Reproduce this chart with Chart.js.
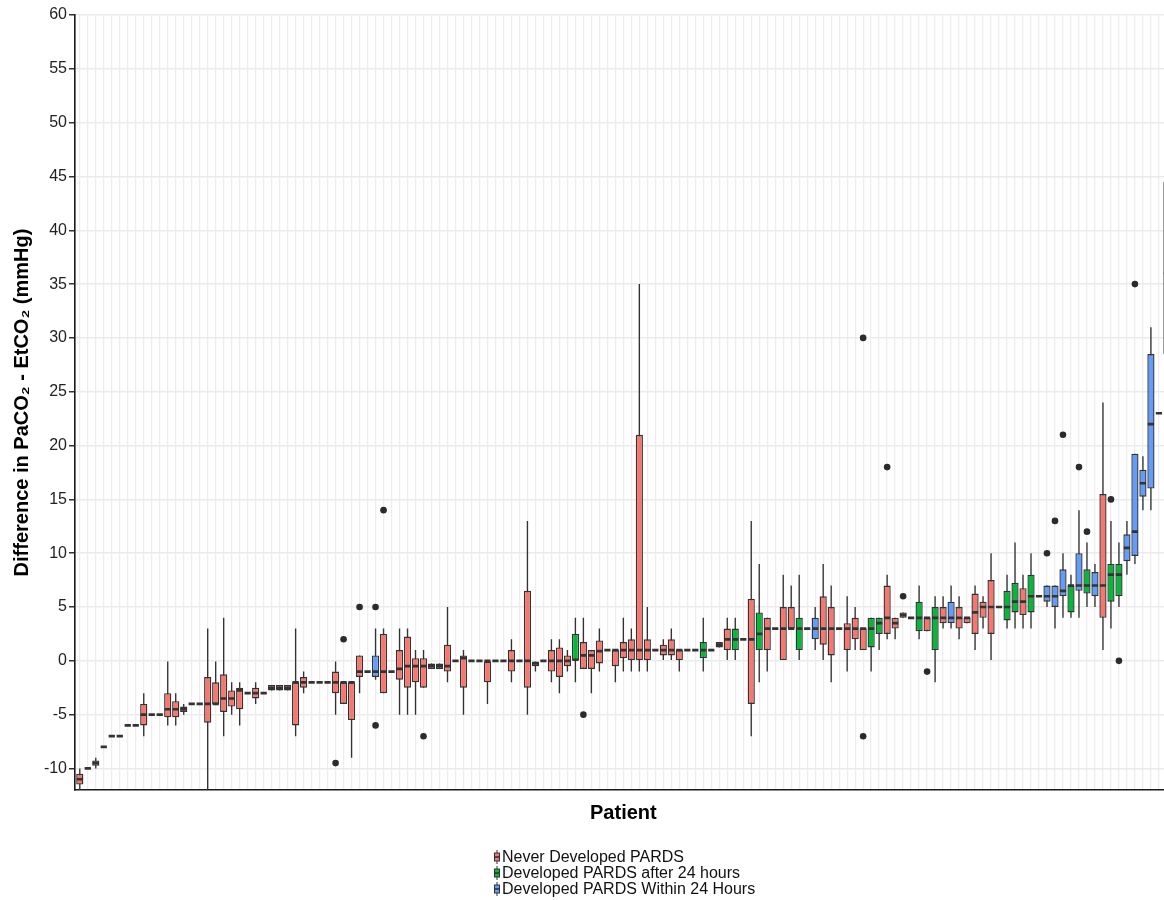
<!DOCTYPE html>
<html>
<head>
<meta charset="utf-8">
<script src="https://cdn.jsdelivr.net/npm/chart.js@4.4.1/dist/chart.umd.min.js"></script>
<style>
  html, body { margin: 0; padding: 0; background: #fff; overflow: hidden; width: 1164px; height: 900px; }
  #wrap { position: absolute; left: 0; top: 0; width: 1175px; height: 900px; }
  #legend { position: absolute; left: 493px; top: 849px; }
  .row { display: flex; align-items: center; height: 16px; font: 16px "Liberation Sans", Arial, sans-serif; color: #111; white-space: nowrap; }
  .row svg { margin-right: 1px; }
</style>
</head>
<body>
<div id="wrap"><canvas id="chart"></canvas></div>
<div id="legend"></div>
<script>
// ---------- data ----------
const groupNames = ['Never Developed PARDS', 'Developed PARDS after 24 hours', 'Developed PARDS Within 24 Hours'];
const groupColors = ['#F8766D', '#00BA38', '#619CFF'];

// group of each patient (0 = never, 1 = after 24 h, 2 = within 24 h), patients ordered left to right
const patientGroup = [
  0,0,0,0,0,0,0,0,0,0,
  0,0,0,0,0,0,0,0,0,0,
  0,0,0,0,0,0,0,0,0,0,
  0,0,0,0,0,0,0,2,0,0,
  0,0,0,0,0,1,0,0,0,0,
  0,0,0,0,0,0,0,0,0,0,
  0,0,1,0,0,0,0,0,0,0,
  0,0,0,0,0,0,0,0,1,0,
  0,0,1,0,0,1,0,0,0,0,
  1,0,2,0,0,0,0,0,0,1,
  1,0,0,0,0,1,0,1,0,2,
  0,0,0,0,0,0,1,1,0,1,
  0,2,2,2,1,2,1,2,0,1,
  1,2,2,2,2,2,2
];

const whiskerLow = [
  -12.5,-10,-10,-8,-7,-7,-6,-6,-7,-5,
  -5,-6,-6,-5,-4,-4,-15,-4,-7,-5,
  -6,-3,-4,-3,-2.75,-2.75,-2.75,-7,-3,-2,
  -2,-2,-5,-4,-9,-3,-1,-1.75,-3,-1,
  -5,-5,-5,-2.5,-0.75,-0.75,-2,0,-5,0,
  0,-4,0,0,-2,0,-5,-1,0,-2,
  -3,-1,-2,-0.75,-3,-1,1,-2,-1,-1,
  -1,-1,1,0,0,-1,1,1,-1,1,
  1.25,0,0,2,-7,-2,-1,3,0,3,
  0,3,1,0,-2,3,-1,1,1,-1,
  1,2,2,4,4,2,2.75,-2,3,3,
  2,3.5,1,3,0,5,3,3,3,3,
  6,5,3,4,4,4,5,5,1,3,
  5,8,9,14,14,23,25
];

const lowerQuartile = [
  -11.5,-10,-9.75,-8,-7,-7,-6,-6,-6,-5,
  -5,-5.25,-5.25,-4.75,-4,-4,-5.75,-4,-4.75,-4.25,
  -4.5,-3,-3.5,-3,-2.75,-2.75,-2.75,-6,-2.5,-2,
  -2,-2,-3,-4,-5.5,-1.5,-1,-1.5,-3,-1,
  -1.75,-2.5,-2,-2.5,-0.75,-0.75,-1,0,-2.5,0,
  0,-2,0,0,-1,0,-2.5,-0.5,0,-1,
  -1.5,-0.5,0,-0.75,-0.75,-0.25,1,-0.5,0.25,0,
  0,0,1,0.5,0.5,0,1,1,0.25,1,
  1.25,1,1,2,-4,1,1,3,0,3,
  1,3,2,1.5,0.5,3,1,2,1,1.25,
  2.5,2.5,3,4,4,2.75,2.75,1,3.5,3.5,
  3,3.5,2.5,4,2.5,5,3.75,4.5,4.25,4.5,
  6,5.5,5,6,4.5,6.5,6.25,6,4,5.5,
  6,9.25,9.75,15.25,16,23,28.5
];

const medianValue = [
  -11,-10,-9.5,-8,-7,-7,-6,-6,-5,-5,
  -5,-4.5,-4.5,-4.5,-4,-4,-4,-4,-3.5,-3.5,
  -2.75,-3,-3,-3,-2.5,-2.5,-2.5,-2,-2,-2,
  -2,-2,-2,-2,-2,-1,-1,-1,-1,-1,
  -0.75,-0.5,-0.5,-0.5,-0.5,-0.5,-0.5,0,0.25,0,
  0,0,0,0,0,0,0,-0.25,0,0,
  0,0,0.1,0.5,0.5,0.9,1,1,1,1,
  1,1,1,1,1,1,1,1,1,1,
  1.5,2,2,2,2,2.5,3,3,3,3,
  3,3,3,3,3,3,3,3,3,3,
  3.5,4,3.5,4.25,4,4,4,4,4,4,
  4,4,4.5,5,5,5,5,5.5,5.5,6,
  6,6,6,6.5,7,7,7,7,7,8,
  8,10.5,12,16.5,22,23,36
];

const upperQuartile = [
  -10.5,-10,-9.25,-8,-7,-7,-6,-6,-4,-5,
  -5,-3,-3.75,-4.25,-4,-4,-1.5,-2,-1.25,-2.75,
  -2.5,-3,-2.5,-3,-2.25,-2.25,-2.25,-2,-1.5,-2,
  -2,-2,-1,-2,-2,0.5,-1,0.5,2.5,-1,
  1,2.25,0.25,0.25,-0.25,-0.25,1.5,0,0.5,0,
  0,0,0,0,1,0,6.5,0,0,1,
  1.25,0.5,2.5,1.75,1,1.9,1,1,1.75,2,
  21,2,1,1.5,2,1,1,1,1.75,1,
  1.75,3,3,2,5.75,4.5,4,3,5,5,
  4,3,4,6,5,3,3.5,4,3,4,
  4,7,4,4.5,4,5.5,4,5,5,5.5,
  5,4,6.25,5.5,7.5,5,6.5,7.25,6.75,8,
  6,7,7,8.5,7,10,8.5,8.25,15.5,9,
  9,11.75,19.25,17.75,28.5,23,44.5
];

const whiskerHigh = [
  -10,-10,-9,-8,-7,-7,-6,-6,-3,-5,
  -5,0,-3,-4,-4,-4,3,0,4,-2,
  -2,-3,-2,-3,-2.25,-2.25,-2.25,3,-1,-2,
  -2,-2,0,-2,-2,0.5,-1,3,3,-1,
  3,3,1,1,-0.25,-0.25,5,0,1,0,
  0,0,0,0,2,0,13,0,0,2,
  2,1,4,4,1,3,1,1,4,3,
  35,5,1,2,3,1,1,1,4,1,
  1.75,4,4,2,13,9,4,3,8,7,
  8,3,5,9,7,3,6,5,3,4,
  4,8,4,4.5,4,7,4,6,6,7,
  6,4,7,6,10,5,8,11,8,10,
  6,7,7,10,8,14,11,9,24,13,
  11,13,19.25,19,31,23,50
];

// outliers: patient position and value
const outlierPatient = [32, 33, 35, 37, 37, 38, 43, 63, 98, 98, 101, 103, 106, 121, 122, 123, 125, 126, 129, 130, 132];
const outlierValue   = [-9.5, 2, 5, 5, -6, 14, -7, -5, 30, -7, 18, 6, -1, 10, 13, 21, 18, 12, 15, 0, 35];

const yTickValues = [-10, -5, 0, 5, 10, 15, 20, 25, 30, 35, 40, 45, 50, 55, 60];
const yMin = -12, yMax = 60;

// ---------- chart ----------
const BOX_WIDTH = 0.9;             // box (with its outline) as a fraction of a patient slot
const MEDIAN_WIDTH = 0.78;         // median bar as a fraction of a patient slot
const patientIdx = medianValue.map((_, i) => i);
const FONT = '"Liberation Sans", Arial, sans-serif';

const boxDatasets = groupNames.map((name, g) => ({
  type: 'bar',
  label: name,
  data: patientIdx.filter(i => patientGroup[i] === g)
                  .map(i => ({ x: i, y: [lowerQuartile[i], upperQuartile[i]] })),
  backgroundColor: groupColors[g],
  borderColor: '#333333',
  borderWidth: 1.4,
  borderSkipped: false,
  grouped: false,
  categoryPercentage: 1,
  barPercentage: BOX_WIDTH,
  order: 2,
  clip: 0
}));

const whiskerDataset = {
  type: 'bar',
  label: 'whiskers',
  data: patientIdx.map(i => ({ x: i, y: [whiskerLow[i], whiskerHigh[i]] })),
  backgroundColor: '#333333',
  borderWidth: 0,
  grouped: false,
  categoryPercentage: 1,
  barPercentage: 0.17,
  order: 3,
  clip: 0
};

const outlierDataset = {
  type: 'scatter',
  label: 'outliers',
  data: outlierPatient.map((p, k) => ({ x: p, y: outlierValue[k] })),
  pointRadius: 3.3,
  pointHoverRadius: 3.3,
  backgroundColor: '#2b2b2b',
  borderWidth: 0,
  order: 1
};

const medianPlugin = {
  id: 'medianLines',
  afterDatasetsDraw(chart) {
    const { ctx, chartArea: a, scales: { x, y } } = chart;
    ctx.save();
    ctx.beginPath();
    ctx.rect(a.left, a.top, a.right - a.left, a.bottom - a.top);
    ctx.clip();
    ctx.strokeStyle = '#333333';
    ctx.lineWidth = 2.7;
    medianValue.forEach((m, i) => {
      const yp = y.getPixelForValue(m);
      ctx.beginPath();
      ctx.moveTo(x.getPixelForValue(i - MEDIAN_WIDTH / 2), yp);
      ctx.lineTo(x.getPixelForValue(i + MEDIAN_WIDTH / 2), yp);
      ctx.stroke();
    });
    ctx.restore();
  }
};

new Chart(document.getElementById('chart'), {
  type: 'bar',
  data: { datasets: [whiskerDataset, ...boxDatasets, outlierDataset] },
  options: {
    responsive: true,
    maintainAspectRatio: false,
    animation: false,
    events: [],
    layout: { padding: { top: 15, right: 0, bottom: 0, left: 0 } },
    plugins: { legend: { display: false }, tooltip: { enabled: false }, title: { display: false } },
    scales: {
      x: {
        type: 'linear',
        min: -0.6,
        max: patientIdx.length - 1 + 0.6,
        offset: false,
        afterBuildTicks: s => { s.ticks = patientIdx.map(v => ({ value: v })); },
        afterFit: s => { s.height = 110; },
        ticks: { display: false },
        grid: { color: '#EDEDED', lineWidth: 1.3, drawTicks: false, offset: false },
        border: { display: true, color: '#1a1a1a', width: 1.6 },
        title: {
          display: true, text: 'Patient', color: '#000',
          font: { family: FONT, size: 20, weight: 'bold', lineHeight: 1.2 },
          padding: { top: 0, bottom: 75 }
        }
      },
      y: {
        type: 'linear',
        min: yMin,
        max: yMax,
        afterBuildTicks: s => { s.ticks = yTickValues.map(v => ({ value: v })); },
        afterFit: s => { s.width = 75; },
        ticks: { color: '#222', font: { family: FONT, size: 16 }, padding: 2 },
        grid: { color: '#EBEBEB', lineWidth: 1.5, tickColor: '#333', tickLength: 6, drawTicks: true },
        border: { display: true, color: '#1a1a1a', width: 1.6 },
        title: {
          display: true, text: 'Difference in PaCO\u2082 - EtCO\u2082 (mmHg)', color: '#000',
          font: { family: FONT, size: 20, weight: 'bold', lineHeight: 1.2 },
          padding: { top: 10, bottom: 0 }
        }
      }
    }
  },
  plugins: [medianPlugin]
});

// ---------- legend ----------
const legendEl = document.getElementById('legend');
groupNames.forEach((name, g) => {
  const row = document.createElement('div');
  row.className = 'row';
  row.innerHTML =
    '<svg width="8" height="14" viewBox="0 0 8 14">' +
    '<line x1="4" y1="0" x2="4" y2="14" stroke="#333" stroke-width="1"/>' +
    '<rect x="1.5" y="3" width="5" height="8" fill="' + groupColors[g] + '" stroke="#333" stroke-width="1"/>' +
    '<line x1="1.5" y1="7" x2="6.5" y2="7" stroke="#333" stroke-width="1.6"/></svg>' +
    '<span>' + name + '</span>';
  legendEl.appendChild(row);
});
</script>
</body>
</html>
